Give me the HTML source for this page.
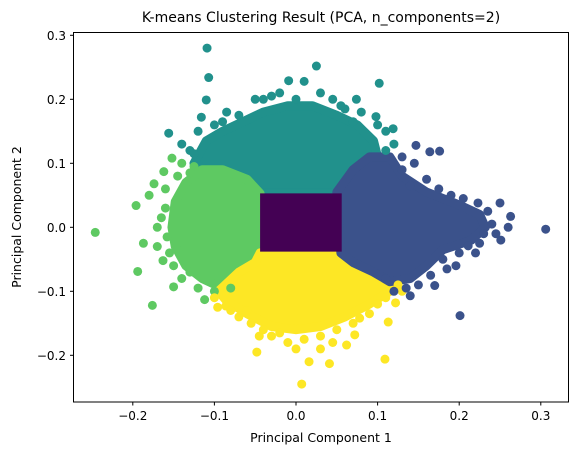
<!DOCTYPE html>
<html><head><meta charset="utf-8"><style>
body{margin:0;background:#fff;}
svg{display:block;font-family:"DejaVu Sans","Liberation Sans",sans-serif;}
</style></head><body>
<svg id="chart" width="578" height="455" viewBox="0 0 578 455" xmlns="http://www.w3.org/2000/svg">
<rect x="0" y="0" width="578" height="455" fill="#fff"/>
<text x="321" y="22" text-anchor="middle" font-size="14" fill="#000">K-means Clustering Result (PCA, n_components=2)</text>
<g id="marks"></g>
<rect x="73.5" y="32.5" width="495" height="369.5" fill="none" stroke="#000" stroke-width="1"/>
<g id="xticks"></g><g id="yticks"></g>
<text x="321" y="442" text-anchor="middle" font-size="12.5" fill="#000">Principal Component 1</text>
<text transform="translate(21,217) rotate(-90)" text-anchor="middle" font-size="12.5" fill="#000">Principal Component 2</text>
</svg>
<script>
const xTicks=[-0.2,-0.1,0.0,0.1,0.2,0.3];
const yTicks=[-0.2,-0.1,0.0,0.1,0.2,0.3];
const clusterNames=["cluster-0","cluster-1","cluster-2","cluster-3","cluster-4"];
const clusterColors=["#440154","#3b528b","#21918c","#5ec962","#fde725"];
// dense core regions (data coords) per cluster
const core0=[[-0.044,0.053],[0.056,0.053],[0.056,-0.038],[-0.044,-0.038]];
const core1=[[0.05,0.055],[0.07,0.09],[0.09,0.11],[0.115,0.11],[0.13,0.08],[0.16,0.055],[0.2,0.035],[0.225,0.02],[0.232,0.0],[0.215,-0.02],[0.18,-0.035],[0.16,-0.06],[0.14,-0.08],[0.115,-0.085],[0.095,-0.07],[0.07,-0.055],[0.055,-0.04]];
const core2=[[-0.125,0.1],[-0.11,0.135],[-0.09,0.15],[-0.065,0.165],[-0.04,0.18],[-0.01,0.19],[0.02,0.19],[0.05,0.175],[0.075,0.16],[0.095,0.135],[0.1,0.11],[0.08,0.08],[0.062,0.06],[0.05,0.053],[-0.044,0.053],[-0.06,0.075],[-0.085,0.085],[-0.11,0.09]];
const core3=[[-0.044,0.053],[-0.06,0.075],[-0.09,0.09],[-0.115,0.09],[-0.135,0.07],[-0.148,0.04],[-0.152,0.0],[-0.148,-0.03],[-0.135,-0.06],[-0.115,-0.08],[-0.09,-0.095],[-0.065,-0.085],[-0.05,-0.06],[-0.044,-0.04]];
const core4=[[-0.044,-0.04],[0.055,-0.04],[0.075,-0.055],[0.1,-0.07],[0.12,-0.085],[0.115,-0.1],[0.09,-0.12],[0.06,-0.14],[0.03,-0.155],[0.0,-0.16],[-0.03,-0.155],[-0.06,-0.135],[-0.085,-0.115],[-0.095,-0.1],[-0.07,-0.07],[-0.05,-0.055]];
// outlying points
const pts2=[[-0.109,0.28],[-0.107,0.234],[-0.110,0.199],[-0.156,0.147],[-0.116,0.172],[-0.009,0.229],[-0.05,0.2],[0.025,0.252],[0.010,0.228],[0.102,0.225],[0.074,0.2],[0.119,0.154],[0.098,0.173],[-0.13,0.12],[-0.085,0.18],[-0.03,0.205],[0.045,0.2],[0.06,0.185],[0.11,0.15],[-0.14,0.13],[-0.12,0.15],[-0.1,0.16],[-0.07,0.175],[-0.04,0.2],[-0.02,0.21],[0.0,0.2],[0.03,0.21],[0.055,0.19],[0.08,0.18],[0.1,0.16],[0.11,0.12],[0.12,0.13],[-0.125,0.115],[-0.09,0.165],[0.07,0.165]];
const pts1=[[0.306,-0.003],[0.201,-0.138],[0.176,0.119],[0.164,0.118],[0.147,0.128],[0.263,0.017],[0.25,0.038],[0.251,-0.02],[0.196,-0.06],[0.170,-0.091],[0.14,-0.107],[0.223,0.038],[0.24,0.005],[0.211,-0.029],[0.13,0.11],[0.19,0.05],[0.15,-0.09],[0.12,-0.1],[0.26,0.0],[0.23,-0.01],[0.145,0.1],[0.13,0.09],[0.16,0.075],[0.175,0.06],[0.205,0.045],[0.235,0.025],[0.245,-0.01],[0.225,-0.025],[0.2,-0.04],[0.18,-0.05],[0.165,-0.075],[0.135,-0.095],[0.11,-0.08],[0.14,0.065],[0.22,-0.04],[0.185,-0.065]];
const pts3=[[-0.246,-0.008],[-0.196,0.034],[-0.194,-0.069],[-0.176,-0.122],[-0.187,-0.025],[-0.174,0.068],[-0.18,0.05],[-0.150,-0.093],[-0.163,-0.052],[-0.162,0.087],[-0.152,0.108],[-0.112,-0.113],[-0.17,0.0],[-0.16,0.03],[-0.14,0.1],[-0.13,-0.07],[-0.165,0.015],[-0.158,-0.015],[-0.16,0.06],[-0.145,0.08],[-0.15,-0.06],[-0.14,-0.08],[-0.12,-0.095],[-0.1,-0.1],[-0.08,-0.095],[-0.125,0.095],[-0.155,-0.04],[-0.17,-0.03],[-0.13,0.085]];
const pts4=[[0.007,-0.245],[0.109,-0.206],[0.041,-0.213],[0.113,-0.148],[0.122,-0.118],[-0.048,-0.195],[-0.096,-0.125],[-0.086,-0.123],[-0.055,-0.15],[-0.045,-0.17],[-0.030,-0.17],[-0.01,-0.18],[0.072,-0.168],[0.016,-0.21],[0.062,-0.184],[0.078,-0.142],[0.1,-0.12],[-0.06,-0.13],[0.03,-0.19],[-0.07,-0.14],[-0.04,-0.16],[-0.02,-0.165],[0.01,-0.175],[0.03,-0.17],[0.05,-0.16],[0.07,-0.15],[0.09,-0.135],[0.11,-0.11],[0.125,-0.09],[0.13,-0.1],[-0.1,-0.11],[-0.08,-0.13],[0.0,-0.19],[0.045,-0.18]];
const cores=[core0,core1,core2,core3,core4];
const pointSets=[[],pts1,pts2,pts3,pts4];

const X0=296, XS=816, Y0=227.3, YS=640;
function sx(v){return X0+v*XS;}
function sy(v){return Y0-v*YS;}
const NS="http://www.w3.org/2000/svg";
const marks=document.getElementById('marks');
[2,3,4,1,0].forEach(function(ci){
  const p=document.createElementNS(NS,'polygon');
  p.setAttribute('points',cores[ci].map(function(d){return sx(d[0])+','+sy(d[1]);}).join(' '));
  p.setAttribute('fill',clusterColors[ci]);p.setAttribute('stroke',clusterColors[ci]);
  p.setAttribute('stroke-width',ci===0?'0':'9');p.setAttribute('stroke-linejoin','round');
  
  
  marks.appendChild(p);
});
[2,3,4,1].forEach(function(ci){
  pointSets[ci].forEach(function(d){
    const c=document.createElementNS(NS,'circle');
    c.setAttribute('cx',sx(d[0]));c.setAttribute('cy',sy(d[1]));c.setAttribute('r','4.5');
    c.setAttribute('fill',clusterColors[ci]);
    
    
    marks.appendChild(c);
  });
});
function fmt(v){return (v<0?'\u2212':'')+Math.abs(v).toFixed(1);}
const xg=document.getElementById('xticks');
xTicks.forEach(function(v){
  const x=sx(v);
  const l=document.createElementNS(NS,'line');
  l.setAttribute('x1',x);l.setAttribute('x2',x);l.setAttribute('y1',402);l.setAttribute('y2',405.5);l.setAttribute('stroke','#000');
  
  
  xg.appendChild(l);
  const t=document.createElementNS(NS,'text');
  t.setAttribute('x',x);t.setAttribute('y',420);t.setAttribute('text-anchor','middle');t.setAttribute('font-size','12');
  t.textContent=fmt(v);
  
  
  xg.appendChild(t);
});
const yg=document.getElementById('yticks');
yTicks.forEach(function(v){
  const y=sy(v);
  const l=document.createElementNS(NS,'line');
  l.setAttribute('x1',70);l.setAttribute('x2',73.5);l.setAttribute('y1',y);l.setAttribute('y2',y);l.setAttribute('stroke','#000');
  
  
  yg.appendChild(l);
  const t=document.createElementNS(NS,'text');
  t.setAttribute('x',66);t.setAttribute('y',y+4.5);t.setAttribute('text-anchor','end');t.setAttribute('font-size','12');
  t.textContent=fmt(v);
  
  
  xg.appendChild(t);
});
</script>
</body></html>
